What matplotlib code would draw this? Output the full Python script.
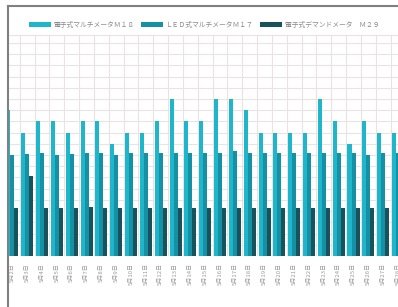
import matplotlib
matplotlib.use("Agg")
import matplotlib.pyplot as plt
import numpy as np
from matplotlib.lines import Line2D
from matplotlib.patches import Patch

plt.rcParams['font.family'] = ['Noto Sans CJK JP', 'DejaVu Sans']

dates = [f"5月{d}日" for d in range(2, 29)]
series_names = ["電子式マルチメータＭ１８", "ＬＥＤ式マルチメータＭ１７", "電子式デマンドメータ　Ｍ２９"]
m18 = [130, 110, 120, 120, 110, 120, 120, 100, 110, 110, 120, 140, 120,
       120, 140, 140, 130, 110, 110, 110, 110, 140, 120, 100, 120, 110, 110]
m17 = [90, 91, 92, 90, 91, 92, 92, 90, 92, 92, 92, 92, 92,
       92, 92, 94, 92, 92, 92, 92, 92, 92, 92, 92, 90, 92, 92]
m29 = [43, 71, 43, 43, 43, 44, 43, 43, 43, 43, 43, 43, 43,
       43, 43, 43, 43, 43, 43, 43, 43, 43, 43, 43, 43, 43, 43]

colors = ["#1db6ca", "#1690a4", "#17535d"]

W, H = 398, 307
fig = plt.figure(figsize=(W / 100, H / 100), dpi=100)
fig.patch.set_facecolor("white")

left, right, top, bottom = 8.5, 398, 35, 256
ax = fig.add_axes([left / W, 1 - bottom / H, (right - left) / W, (bottom - top) / H])

x = np.arange(len(dates))
bw = 0.27
ax.bar(x - bw, m18, bw, color=colors[0], zorder=3)
ax.bar(x, m17, bw, color=colors[1], zorder=3)
ax.bar(x + bw, m29, bw, color=colors[2], zorder=3)

gridc = "#ebe3e3"
ax.set_ylim(0, 197)
ax.set_yticks(np.arange(10, 200, 10))
ax.yaxis.grid(True, color=gridc, lw=0.8, zorder=0)
for v in np.arange(-0.5, len(dates), 1):
    ax.axvline(v, color=gridc, lw=0.8, zorder=0)
ax.set_xlim(-0.26, -0.26 + (right - left) / 14.9)
ax.tick_params(axis='y', left=False, labelleft=False)
ax.set_xticks(x)
ax.set_xticklabels(dates, rotation=90, fontsize=4.3, color="#9a9a9a")
ax.tick_params(axis='x', length=0, pad=5)
for s in ["left", "right", "bottom"]:
    ax.spines[s].set_visible(False)
ax.spines["top"].set_color(gridc)
ax.spines["top"].set_linewidth(0.8)

handles = [Patch(facecolor=c, edgecolor="none") for c in colors]
leg = fig.legend(handles, series_names, loc="center", bbox_to_anchor=(204 / W, 1 - 24.5 / H),
                 ncol=3, frameon=False, fontsize=4.9, handlelength=3.2, handleheight=0.7,
                 columnspacing=1.0, handletextpad=0.4, borderaxespad=0)
for t in leg.get_texts():
    t.set_color("#8a8a8a")

# outer frame
fig.add_artist(Line2D([8 / W, 8 / W], [0, 1 - 5.5 / H], color="#808080", lw=1.5, transform=fig.transFigure))
fig.add_artist(Line2D([8 / W, 1], [1 - 5.5 / H, 1 - 5.5 / H], color="#808080", lw=1.5, transform=fig.transFigure))

fig.savefig("out.png", dpi=100)
